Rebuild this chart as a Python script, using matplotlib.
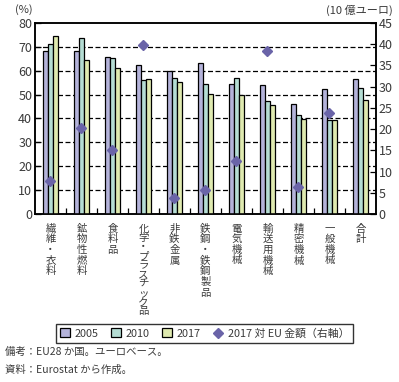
import numpy as np
import matplotlib.pyplot as plt

plt.rcParams['font.family'] = ['Noto Sans CJK JP', 'DejaVu Sans']

# ---- data ----
categories = ['繊維・衣料', '鉱物性燃料', '食料品', '化学・プラスチック品', '非鉄金属',
              '鉄鋼・鉄鋼製品', '電気機械', '輸送用機械', '精密機械', '一般機械', '合計']
share_2005 = [68.2, 68.2, 65.8, 62.3, 60.0, 63.1, 54.3, 53.9, 45.9, 52.2, 56.4]
share_2010 = [71.3, 73.8, 65.4, 56.2, 57.0, 54.3, 56.8, 47.2, 41.3, 39.4, 52.6]
share_2017 = [74.6, 64.6, 61.0, 56.6, 55.3, 50.4, 49.7, 45.5, 39.7, 39.4, 47.7]
eu_amount_2017 = [7.8, 20.3, 15.0, 39.8, 3.7, 5.6, 12.5, 38.3, 6.3, 23.7, np.nan]

series_labels = ['2005', '2010', '2017']
series_colors = ['#b4b3da', '#b5ddd4', '#dfeab0']
diamond_color = '#6a64a8'
text_color = '#3a3a3a'

fig = plt.figure(figsize=(3.99, 3.82), dpi=100)
ax = fig.add_axes([0.0877, 0.4398, 0.8545, 0.5])
ax2 = ax.twinx()

x = np.arange(len(categories))
w = 0.16
handles = []
for k, (vals, col, lab) in enumerate(zip([share_2005, share_2010, share_2017],
                                         series_colors, series_labels)):
    b = ax.bar(x + (k - 1) * w, vals, width=w, color=col, edgecolor='black',
               linewidth=0.9, label=lab, zorder=3)
    handles.append(b)

d, = ax2.plot(x, eu_amount_2017, linestyle='none', marker='D', markersize=5,
              color=diamond_color, label='2017 対 EU 金額（右軸）', zorder=4)
handles.append(d)

ax.set_xlim(-0.5, len(categories) - 0.5)
ax.set_ylim(0, 80)
ax2.set_ylim(0, 45)
ax.set_yticks(np.arange(0, 81, 10))
ax2.set_yticks(np.arange(0, 46, 5))

for yv in range(10, 80, 10):
    ax.axhline(yv, color='black', linewidth=0.9, linestyle=(0, (4, 2)), zorder=1)

ax.set_xticks(np.arange(len(categories) - 1) + 0.5)
ax.set_xticklabels([])
ax.tick_params(axis='x', direction='in', length=4, width=0.9)
ax.tick_params(axis='y', direction='in', length=4, width=0.9,
               labelsize=9, labelcolor=text_color, pad=2)
ax2.tick_params(axis='y', direction='in', length=4, width=0.9,
                labelsize=9, labelcolor=text_color, pad=2)
for a in (ax, ax2):
    for s in a.spines.values():
        s.set_linewidth(1.1)

# vertical category labels (katakana set tighter, as in the original)
for i, name in enumerate(categories):
    ls = 0.9 if 'プ' in name else 1.08
    ax.text(i, -0.05, '\n'.join(name), transform=ax.get_xaxis_transform(),
            ha='center', va='top', fontsize=7.5, color=text_color, linespacing=ls)

fig.text(0.038, 0.974, '(%)', fontsize=8, color=text_color, va='center')
fig.text(0.985, 0.974, '(10 億ユーロ)', fontsize=8, color=text_color, va='center', ha='right')

leg = fig.legend(handles=handles, loc='center', bbox_to_anchor=(0.513, 0.127),
                 ncol=4, fontsize=7.8, frameon=True, fancybox=False,
                 edgecolor='black', handlelength=0.9, handleheight=0.9,
                 handletextpad=0.4, columnspacing=1.2, borderpad=0.35)
leg.get_frame().set_linewidth(1.0)
for t in leg.get_texts():
    t.set_color(text_color)

fig.text(0.012, 0.078, '備考：EU28 か国。ユーロベース。', fontsize=7.5, color=text_color, va='center')
fig.text(0.012, 0.032, '資料：Eurostat から作成。', fontsize=7.5, color=text_color, va='center')

fig.savefig('out.png', dpi=100)
